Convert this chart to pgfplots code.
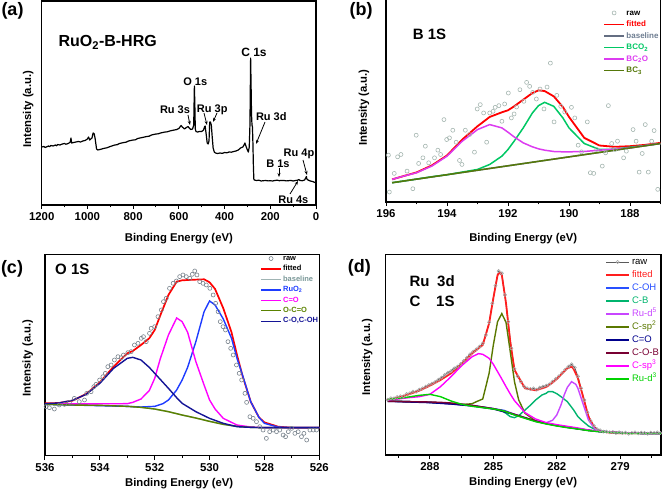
\documentclass[border=0pt]{standalone}
\usepackage{fontspec}
\setmainfont{Liberation Sans}
\usepackage{pgfplots}
\pgfplotsset{compat=1.18}
\usetikzlibrary{arrows.meta}
\definecolor{rawB}{RGB}{165,182,176}
\definecolor{fitred}{RGB}{255,0,0}
\definecolor{baseB}{RGB}{100,110,130}
\definecolor{baseBt}{RGB}{110,125,145}
\definecolor{bco2}{RGB}{0,200,100}
\definecolor{bc2o}{RGB}{220,60,240}
\definecolor{bc3}{RGB}{85,120,10}
\definecolor{rawC}{RGB}{120,130,140}
\definecolor{baseC}{RGB}{160,180,180}
\definecolor{baseCt}{RGB}{120,150,150}
\definecolor{ruo2}{RGB}{30,60,255}
\definecolor{coC}{RGB}{255,0,255}
\definecolor{ocoC}{RGB}{90,130,0}
\definecolor{cohC}{RGB}{20,20,150}
\definecolor{rawDl}{RGB}{90,90,90}
\definecolor{rawDm}{RGB}{165,165,165}
\definecolor{fitD}{RGB}{255,30,30}
\definecolor{cohD}{RGB}{40,80,255}
\definecolor{cbD}{RGB}{0,180,110}
\definecolor{rud5}{RGB}{200,70,255}
\definecolor{csp2}{RGB}{90,120,0}
\definecolor{coD}{RGB}{0,0,140}
\definecolor{cobD}{RGB}{120,0,50}
\definecolor{csp3}{RGB}{255,0,255}
\definecolor{rud3}{RGB}{0,210,0}
\pgfplotsset{
  /pgf/number format/1000 sep={},
  /pgf/number format/assume math mode=true,
  rawlegend/.style={legend image code/.code={\draw[##1] plot coordinates {(10pt,0pt)};}},
  rawlegendD/.style={legend image code/.code={\draw[##1, mark repeat=2, mark phase=2] plot coordinates {(0pt,0pt)(11.5pt,0pt)(23pt,0pt)};}},
  linelegendD/.style={legend image code/.code={\draw[##1] (0pt,0pt) -- (23pt,0pt);}},
  panel/.style={
    scale only axis, x dir=reverse, clip=true,
    axis line style={line width=1.1pt, black},
    ytick=\empty, xtick pos=bottom,
    tick align=outside, major tick length=4pt, minor tick length=2.5pt,
    tick style={black, line width=1pt},
    xticklabel style={font=\bfseries\fontsize{11.4}{13}\selectfont},
    xlabel style={font=\bfseries\fontsize{11.3}{13}\selectfont, anchor=center},
    ylabel style={font=\bfseries\fontsize{11.3}{13}\selectfont, anchor=center},
    xlabel={Binding Energy (eV)}, ylabel={Intensity (a.u.)},
    legend cell align=left,
    legend image code/.code={\draw[##1] (0pt,0pt) -- (20pt,0pt);},
  }
}
\begin{document}
\begin{tikzpicture}[x=1pt,y=1pt]
\useasboundingbox (0,0) rectangle (663,495);

% ---------------- (a) survey ----------------
\begin{axis}[panel, at={(41.7pt,290pt)}, anchor=south west,
  width=274.3pt, height=204pt,
  xmin=0, xmax=1200, ymin=0, ymax=204,
  xtick={0,200,...,1200}, minor xtick={100,300,...,1100},
  xlabel style={at={(axis description cs:0.5,-0.163)}},
  ylabel style={at={(axis description cs:-0.049,0.47)}}]
\addplot[black, line width=1.2pt, line join=round] coordinates {
(1200,58)(1190,58.5)(1185,57.5)(1180,58)(1170,59)(1165,58.3)(1160,59.5)(1150,59)(1140,60)(1135,59.2)(1130,60.5)(1120,60)(1110,61)(1100,61.5)(1095,60.8)(1090,61)(1080,62)(1075,63)(1072,67)(1069,62)(1060,62.5)(1050,63)(1040,63.5)(1030,63)(1020,64)(1010,64.5)(1000,66)(995,68)(990,65)(985,66)(980,67)(975,72)(970,71)(966,66)(960,56)(955,55)(945,55.5)(930,56.5)(915,57.2)(900,58.5)(880,60)(870,60.3)(860,61.5)(840,62.5)(830,62.9)(820,64)(800,65)(790,65.2)(780,66.5)(760,67.5)(740,68.5)(730,68.8)(720,70)(700,71)(690,71.2)(680,72)(660,73)(650,73.2)(640,74)(620,75)(610,75.4)(600,76.5)(590,79.5)(585,78)(575,76)(570,77)(560,78.5)(555,77)(548,75.5)(540,76)(535,80)(532,119)(530,100)(528,76)(525,73.5)(518,73)(510,73.5)(500,73.5)(492,75)(487,78.5)(485,79)(480,70)(476,62)(472,61)(468,64)(465,83)(462,83)(458,80)(454,68)(450,57)(445,53)(440,52)(430,51.5)(420,52)(410,51.6)(400,52.5)(390,52.2)(380,53)(370,52.8)(360,53.5)(350,54)(340,55)(330,57)(320,58)(315,60)(311,62)(305,58)(300,55)(296,53)(292,58)(289,80)(286,147)(284,120)(282,90)(280,80)(278,78)(276,62)(274,40)(272,26)(270,25)(260,24.5)(250,24.8)(240,24)(230,24.3)(220,24.5)(210,24.1)(200,24.3)(190,24)(180,24.5)(170,24.8)(160,24.3)(150,24.6)(140,24.5)(130,24.1)(120,24.3)(110,24.6)(100,24)(90,24.5)(80,24.8)(75,25.5)(70,24.5)(60,24.3)(50,25)(45,27)(42,28.5)(40,26)(35,25)(25,24)(15,23.5)(5,22.5)(0,22.5)};
\end{axis}

% ---------------- (b) B 1s ----------------
\begin{axis}[panel, at={(386pt,293pt)}, anchor=south west,
  width=274.5pt, height=203pt,
  xmin=187, xmax=196, ymin=0, ymax=611,
  xtick={188,190,...,196}, minor xtick={187,189,...,195},
  xlabel style={at={(axis description cs:0.5,-0.179)}},
  ylabel style={at={(axis description cs:-0.080,0.465)}},
  legend style={draw=none, fill=none, at={(axis description cs:0.7905,0.9606)}, anchor=north west,
    inner sep=0pt, row sep=0pt, column sep=1.5pt,
    font=\bfseries\fontsize{8}{9}\selectfont,
    nodes={inner sep=0pt, text height=8pt, text depth=3.5pt}}]
\addplot[only marks, mark=o, mark size=2pt, color=rawB, line width=0.6pt, rawlegend] coordinates {
(195.92,141)(195.89,30)(195.73,86)(195.62,136)(195.51,143)(195.31,93)(195.12,40)(195.01,201)(194.93,116)(194.79,133)(194.71,168)(194.60,118)(194.41,133)(194.30,156)(194.21,143)(194.10,248)(194.01,188)(193.92,193)(193.81,216)(193.70,180)(193.59,125)(193.51,113)(193.40,216)(193.26,203)(193.10,150)(193.01,280)(192.91,293)(192.80,268)(192.70,180)(192.60,268)(192.49,273)(192.42,285)(192.30,290)(192.20,243)(192.11,295)(191.99,328)(191.89,253)(191.80,265)(191.72,286)(191.61,338)(191.48,303)(191.39,360)(191.29,348)(191.19,330)(191.07,310)(190.95,340)(190.82,280)(190.72,346)(190.61,418)(190.49,241)(190.40,321)(190.27,288)(190.14,271)(189.92,285)(189.81,253)(189.70,171)(189.59,151)(189.40,241)(189.30,88)(189.19,86)(189.09,158)(188.91,108)(188.80,148)(188.71,290)(188.60,176)(188.49,158)(188.41,183)(188.21,133)(188.12,153)(187.90,218)(187.80,183)(187.70,90)(187.60,146)(187.50,233)(187.40,90)(187.29,183)(187.21,215)(187.09,38)};
\addlegendentry{raw}
\addplot[fitred, line width=1.8pt] coordinates {
(195.8,68)(195.5,76)(195,89)(194.5,110)(194,140)(193.5,188)(193,228)(192.6,256)(192.2,270)(192,276)(191.8,288)(191.5,308)(191.2,328)(191,336)(190.8,334)(190.5,318)(190.2,286)(190,256)(189.5,193)(189,170)(188.5,166)(188,168)(187.5,172)(187,178)};
\addlegendentry{\textcolor{fitred}{fitted}}
\addplot[baseB, line width=1.5pt] coordinates {(195.8,58)(187,176)};
\addlegendentry{\textcolor{baseBt}{baseline}}
\addplot[bco2, line width=1.5pt] coordinates {
(195.8,58)(195.5,62)(195,69)(194.5,76)(194,82)(193.5,90)(193,98)(192.6,113)(192.2,138)(192,158)(191.8,183)(191.5,223)(191.2,268)(191,290)(190.8,300)(190.5,288)(190.2,253)(190,223)(189.5,176)(189,158)(188.5,159)(188,165)(187.5,170)(187,176)};
\addlegendentry{\textcolor{bco2}{BCO\textsubscript{2}}}
\addplot[bc2o, line width=1.5pt] coordinates {
(195.8,68)(195.5,76)(195,88)(194.5,108)(194,138)(193.5,183)(193,218)(192.6,233)(192.2,223)(192,210)(191.8,196)(191.5,178)(191.2,166)(191,160)(190.8,156)(190.5,152)(190.2,151)(190,151)(189.5,152)(189,156)(188.5,159)(188,163)(187.5,170)(187,176)};
\addlegendentry{\textcolor{bc2o}{BC\textsubscript{2}O}}
\addplot[bc3, line width=1.5pt] coordinates {(195.8,58)(187,176)};
\addlegendentry{\textcolor{bc3}{BC\textsubscript{3}}}
\end{axis}

% ---------------- (c) O 1s ----------------
\begin{axis}[panel, at={(45pt,39.3pt)}, anchor=south west,
  width=274.3pt, height=201.4pt,
  xmin=526, xmax=536, ymin=0, ymax=604,
  xtick={526,528,...,536}, minor xtick={527,529,...,535},
  xlabel style={at={(axis description cs:0.489,-0.137)}},
  ylabel style={at={(axis description cs:-0.063,0.485)}},
  legend style={draw=none, fill=none, at={(axis description cs:0.7838,1.006)}, anchor=north west,
    inner sep=0pt, row sep=0pt, column sep=1.2pt,
    font=\bfseries\fontsize{7.5}{8.5}\selectfont,
    nodes={inner sep=0pt, text height=7pt, text depth=3.45pt}}]
\addplot[only marks, mark=o, mark size=2pt, color=rawC, line width=0.6pt, rawlegend] coordinates {
(535.96,147)(535.84,144)(535.66,140)(535.48,152)(535.29,154)(535.11,160)(534.93,172)(534.75,162)(534.56,167)(534.48,187)(534.32,192)(534.22,207)(534.14,214)(534.01,227)(533.89,237)(533.80,247)(533.71,267)(533.59,272)(533.47,287)(533.34,297)(533.22,294)(533.14,302)(532.98,309)(532.86,312)(532.74,332)(532.61,337)(532.49,352)(532.41,357)(532.31,342)(532.19,367)(532.13,382)(532.00,387)(531.88,417)(531.76,437)(531.68,462)(531.58,472)(531.46,502)(531.33,517)(531.21,524)(531.09,537)(530.97,542)(530.85,537)(530.72,532)(530.63,544)(530.54,554)(530.46,542)(530.36,522)(530.24,517)(530.12,512)(529.99,502)(529.87,482)(529.78,457)(529.69,432)(529.61,402)(529.51,387)(529.42,377)(529.33,342)(529.23,322)(529.14,302)(529.02,272)(528.92,247)(528.83,227)(528.71,187)(528.65,160)(528.53,117)(528.41,112)(528.29,102)(528.17,87)(528.05,77)(527.93,52)(527.81,72)(527.68,77)(527.56,72)(527.44,77)(527.32,62)(527.23,57)(527.13,72)(527.01,82)(526.89,67)(526.77,72)(526.65,57)(526.56,67)(526.46,47)(526.34,77)(526.22,77)(526.10,77)};
\addlegendentry{raw}
\addplot[fitred, line width=1.7pt] coordinates {
(536,157)(535.5,158)(535,165)(534.5,185)(534,220)(533.5,267)(533,307)(532.8,314)(532.5,332)(532.2,352)(532,377)(531.8,420)(531.5,482)(531.2,522)(531,526)(530.5,528)(530.2,529)(530,520)(529.8,500)(529.5,442)(529.2,370)(529,302)(528.8,240)(528.5,162)(528.2,115)(528,100)(527.5,87)(527,84)(526.5,84)(526,84)};
\addlegendentry{fitted}
\addplot[baseC, line width=1.4pt] coordinates {
(536,154)(535,152)(534,151)(533,148)(532.5,145)(532,140)(531.5,132)(531.2,126)(531,122)(530.5,113)(530,103)(529.5,94)(529,88)(528.5,85)(528,84)(526,84)};
\addlegendentry{\textcolor{baseCt}{baseline}}
\addplot[ruo2, line width=1.4pt] coordinates {
(536,154)(535,152)(534,150)(533,148)(532.5,146)(532,148)(531.7,156)(531.5,167)(531.2,197)(531,227)(530.8,265)(530.5,342)(530.2,432)(530,464)(529.8,452)(529.5,410)(529.2,352)(529,292)(528.8,242)(528.5,162)(528.2,115)(528,97)(527.5,86)(527,84)(526,84)};
\addlegendentry{\textcolor{ruo2}{RuO\textsubscript{2}}}
\addplot[coC, line width=1.4pt] coordinates {
(536,155)(533,156)(532.8,160)(532.5,170)(532.2,195)(532,232)(531.8,290)(531.5,362)(531.2,413)(531,402)(530.8,370)(530.5,282)(530.2,212)(530,167)(529.8,140)(529.5,112)(529,92)(528.5,86)(528,84)(526,84)};
\addlegendentry{\textcolor{coC}{C=O}}
\addplot[ocoC, line width=1.4pt] coordinates {
(536,154)(535,152)(534,151)(533,148)(532.5,145)(532,140)(531.5,132)(531.2,126)(531,122)(530.5,113)(530,103)(529.5,94)(529,88)(528.5,85)(528,84)(526,84)};
\addlegendentry{\textcolor{ocoC}{O-C=O}}
\addplot[cohC, line width=1.4pt] coordinates {
(536,156)(535.5,158)(535,166)(534.5,184)(534,217)(533.5,262)(533,292)(532.8,295)(532.5,287)(532.2,265)(532,247)(531.5,202)(531.2,174)(531,157)(530.5,132)(530.2,120)(530,112)(529.5,97)(529,87)(528.5,85)(528,84)(526,84)};
\addlegendentry{\textcolor{cohC}{C-O,C-OH}}
\end{axis}

% ---------------- (d) Ru 3d / C 1s ----------------
\begin{axis}[panel, at={(385.3pt,40pt)}, anchor=south west,
  width=275.7pt, height=200.7pt,
  xmin=277.07, xmax=290.11, ymin=0, ymax=602,
  xtick={279,282,285,288}, minor xtick={277.5,280.5,283.5,286.5,289.5},
  xlabel style={at={(axis description cs:0.5,-0.136)}},
  ylabel style={at={(axis description cs:-0.066,0.486)}},
  linelegendD,
  legend style={draw=none, fill=none, at={(axis description cs:0.7969,0.9955)}, anchor=north west,
    inner sep=0pt, row sep=0pt, column sep=2pt,
    font=\fontsize{9.5}{11}\selectfont,
    nodes={inner sep=0pt, text height=9pt, text depth=4.03pt}}]
\addplot[rawDl, line width=0.8pt, mark=o, mark size=1.6pt, mark options={rawDm, line width=0.6pt}, rawlegendD] coordinates {
(290.0,166)(289.85,170)(289.7,170)(289.55,174)(289.4,176)(289.25,176)(289.1,183)(288.95,185)(288.8,190)(288.65,190)(288.5,196)(288.35,200)(288.2,205)(288.05,210)(287.9,214)(287.75,219)(287.6,226)(287.45,232)(287.3,240)(287.15,247)(287.0,252)(286.85,260)(286.7,265)(286.55,273)(286.4,282)(286.25,292)(286.1,302)(285.95,310)(285.8,317)(285.65,325)(285.5,335)(285.35,360)(285.2,398)(285.05,455)(284.9,508)(284.75,552)(284.6,545)(284.45,480)(284.3,400)(284.15,320)(284.0,258)(283.85,236)(283.7,220)(283.55,206)(283.4,200)(283.25,198)(283.1,200)(282.95,196)(282.8,202)(282.65,205)(282.5,208)(282.35,212)(282.2,220)(282.05,228)(281.9,236)(281.75,246)(281.6,256)(281.45,265)(281.3,272)(281.15,262)(281.0,236)(280.85,200)(280.7,165)(280.55,128)(280.4,102)(280.25,88)(280.1,78)(279.95,74)(279.8,70)(279.65,70)(279.5,68)(279.35,69)(279.2,66)(279.05,68)(278.9,66)(278.75,67)(278.6,64)(278.45,66)(278.3,68)(278.15,65)(278.0,67)(277.85,66)(277.7,64)(277.55,67)(277.4,66)(277.25,68)(277.1,66)};
\addlegendentry{raw}
\addplot[fitD, line width=1.8pt] coordinates {
(290,165)(289.5,172)(289,182)(288.5,193)(288,208)(287.5,225)(287,245)(286.5,272)(286,305)(285.5,330)(285.2,395)(285,470)(284.8,540)(284.7,547)(284.6,540)(284.4,455)(284.2,340)(284,255)(283.5,200)(283,194)(282.5,204)(282.2,217)(282,228)(281.5,260)(281.3,265)(281.2,258)(281,230)(280.8,185)(280.5,115)(280.2,80)(280,72)(279.5,67)(279,65)(277.07,65)};
\addlegendentry{\textcolor{fitD}{fitted}}
\addplot[cohD, line width=1.4pt] coordinates {
(290,162)(289.5,161)(289,160)(288.5,159)(288,158)(287.5,156)(287,154)(286.5,151)(286,148)(285.5,144)(285,139)(284.5,134)(284,122)(283.5,112)(283,102)(282.5,95)(282,89)(281.5,84)(281,79)(280.5,74)(280,71)(279.5,69)(279,67)(278.5,66)(278,65)(277.07,65)};
\addlegendentry{\textcolor{cohD}{C-OH}}
\addplot[cbD, line width=1.4pt] coordinates {
(290,162)(289,160)(288,158)(287,154)(286,148)(285,139)(284.6,133)(284.4,125)(284.2,115)(284,112)(283.8,118)(283.5,135)(283.2,152)(283,165)(282.7,180)(282.5,185)(282.4,190)(282.2,190)(282,184)(281.8,175)(281.5,160)(281.2,135)(281,115)(280.8,103)(280.5,87)(280.2,77)(280,73)(279.5,69)(279,67)(278.5,66)(278,65)(277.07,65)};
\addlegendentry{\textcolor{cbD}{C-B}}
\addplot[rud5, line width=1.4pt] coordinates {
(290,162)(288,158)(286,148)(285,139)(284,122)(283,102)(282.7,97)(282.5,97)(282.2,104)(282,120)(281.8,150)(281.65,180)(281.5,203)(281.3,220)(281.1,212)(281,200)(280.8,162)(280.5,105)(280.2,78)(280,72)(279.5,69)(279,67)(278,65)(277.07,65)};
\addlegendentry{\textcolor{rud5}{Ru-d\textsuperscript{5}}}
\addplot[csp2, line width=1.4pt] coordinates {
(290,162)(289,160)(288,158)(287,154)(286.5,151)(286,154)(285.8,160)(285.5,168)(285.2,245)(285,330)(284.8,400)(284.6,424)(284.4,398)(284.2,310)(284,220)(283.8,165)(283.5,125)(283,102)(282.5,94)(282,88)(281.5,83)(281,79)(280.5,74)(280,71)(279,67)(278,65)(277.07,65)};
\addlegendentry{\textcolor{csp2}{C-sp\textsuperscript{2}}}
\addplot[coD, line width=1.4pt] coordinates {
(290,161)(289,159)(288,157)(287,153)(286,147)(285,138)(284,121)(283,101)(282,88)(281,78)(280,70)(279,66)(278,65)(277.07,65)};
\addlegendentry{\textcolor{coD}{C=O}}
\addplot[cobD, line width=1.4pt] coordinates {
(290,161)(289,160)(288,159)(287.5,158)(287,156)(286.5,153)(286,149)(285.5,144)(285,139)(284.5,132)(284,122)(283.5,112)(283,102)(282.5,95)(282,89)(281.5,84)(281,79)(280.5,74)(280,71)(279.5,69)(279,67)(278.5,66)(278,65)(277.07,65)};
\addlegendentry{\textcolor{cobD}{C-O-B}}
\addplot[csp3, line width=1.4pt] coordinates {
(290,165)(289.5,168)(289,172)(288.5,175)(288,182)(287.5,205)(287,235)(286.5,268)(286,295)(285.7,304)(285.5,302)(285.2,290)(285,272)(284.8,250)(284.6,228)(284.4,205)(284.2,183)(284,163)(283.5,127)(283,108)(282.5,97)(282,91)(281.5,86)(281,81)(280.5,75)(280,71)(279,67)(278,65)(277.07,65)};
\addlegendentry{\textcolor{csp3}{C-sp\textsuperscript{3}}}
\addplot[rud3, line width=1.4pt] coordinates {
(290,167)(289.5,170)(289,174)(288.5,179)(288,182)(287.5,175)(287,162)(286.5,152)(286,146)(285.5,142)(285,138)(284.5,132)(284,120)(283.5,110)(283,100)(282.5,93)(282,87)(281.5,82)(281,78)(280.5,73)(280,70)(279.5,68)(279,66)(278.5,65)(277.07,65)};
\addlegendentry{\textcolor{rud3}{Ru-d\textsuperscript{3}}}
\end{axis}

% ---------------- panel labels and titles ----------------
\begin{scope}[every node/.style={inner sep=0pt}]
\node[anchor=base, font=\bfseries\fontsize{18}{20}\selectfont] at (12.5,479.1) {(a)};
\node[anchor=base, font=\bfseries\fontsize{18}{20}\selectfont] at (361,479.3) {(b)};
\node[anchor=base, font=\bfseries\fontsize{18}{20}\selectfont] at (12,221.1) {(c)};
\node[anchor=base, font=\bfseries\fontsize{18}{20}\selectfont] at (359.3,222.3) {(d)};
\node[anchor=base west, font=\bfseries\fontsize{16}{18}\selectfont] at (58.3,448.3) {RuO\textsubscript{2}-B-HRG};
\node[anchor=base west, font=\bfseries\fontsize{15}{17}\selectfont] at (412.7,455.7) {B 1S};
\node[anchor=base west, font=\bfseries\fontsize{15}{17}\selectfont] at (55,220) {O 1S};
\node[anchor=base west, font=\bfseries\fontsize{15}{17}\selectfont] at (409.3,208.3) {Ru};
\node[anchor=base west, font=\bfseries\fontsize{15}{17}\selectfont] at (437,208.3) {3d};
\node[anchor=base west, font=\bfseries\fontsize{15}{17}\selectfont] at (409.3,188.3) {C};
\node[anchor=base west, font=\bfseries\fontsize{15}{17}\selectfont] at (436,188.3) {1S};
% survey annotations
\node[anchor=base, font=\bfseries\fontsize{12}{14}\selectfont] at (254,438.3) {C 1s};
\node[anchor=base, font=\bfseries\fontsize{11}{13}\selectfont] at (195.3,409) {O 1s};
\node[anchor=base, font=\bfseries\fontsize{11}{13}\selectfont] at (175,381.7) {Ru 3s};
\node[anchor=base, font=\bfseries\fontsize{11}{13}\selectfont] at (212.2,382.3) {Ru 3p};
\node[anchor=base, font=\bfseries\fontsize{11}{13}\selectfont] at (271.3,374.3) {Ru 3d};
\node[anchor=base, font=\bfseries\fontsize{11}{13}\selectfont] at (278,327.3) {B 1s};
\node[anchor=base, font=\bfseries\fontsize{11}{13}\selectfont] at (299,338.3) {Ru 4p};
\node[anchor=base, font=\bfseries\fontsize{11}{13}\selectfont] at (293.3,291) {Ru 4s};
\end{scope}
\begin{scope}[line width=0.8pt, -{Stealth[length=4pt,width=3pt]}]
\draw (188,380) -- (190,370);
\draw (204,382) -- (207,370);
\draw (217,382) -- (213,373);
\draw (265,373) -- (256,351);
\draw (279,327) -- (279,318);
\draw (303,335) -- (307,320);
\draw (290,301) -- (298,314);
\end{scope}
\end{tikzpicture}
\end{document}
